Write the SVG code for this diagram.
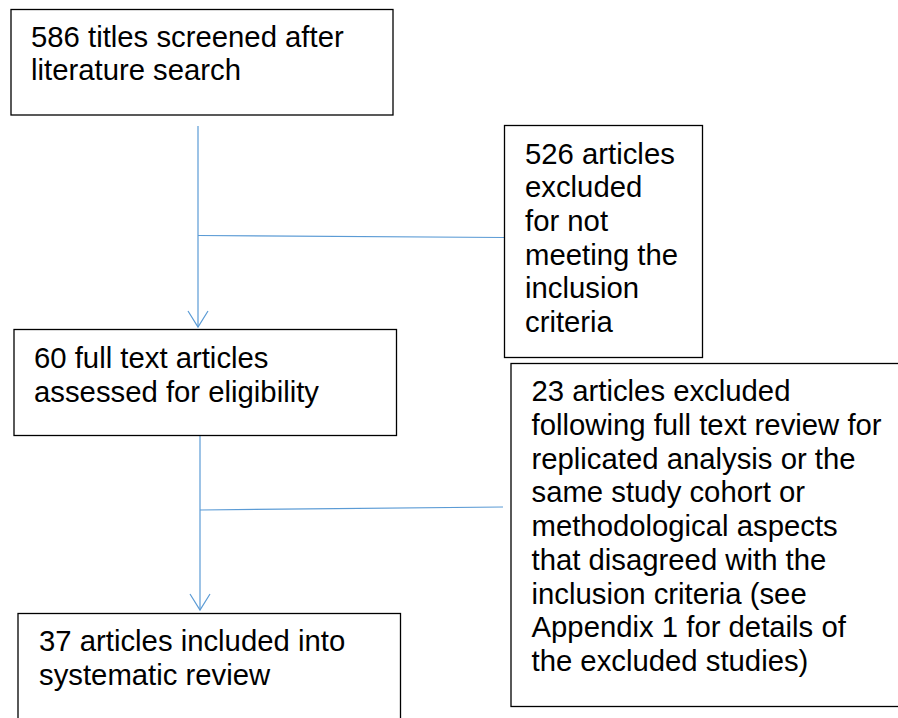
<svg xmlns="http://www.w3.org/2000/svg" width="898" height="718" viewBox="0 0 898 718">
  <defs>
    <style>
      .box { fill: #ffffff; stroke: #000000; stroke-width: 1.3; }
      .lbl { font-family: "Liberation Sans", Arial, sans-serif; font-size: 29.3px; fill: #000000; }
      .conn { fill: none; stroke: #5B9BD5; stroke-width: 1.2; }
    </style>
    <marker id="arrow" markerUnits="userSpaceOnUse" markerWidth="40" markerHeight="40" refX="0" refY="0" orient="auto" overflow="visible">
      <path d="M-16,-10 L0,0 L-16,10" fill="none" stroke="#5B9BD5" stroke-width="1.2"/>
    </marker>
  </defs>
  <rect width="898" height="718" fill="#ffffff"/>

  <g id="connectors">
    <line class="conn" x1="198" y1="126" x2="198" y2="327" marker-end="url(#arrow)"/>
    <line class="conn" x1="198" y1="235.5" x2="504" y2="237.5"/>
    <line class="conn" x1="200" y1="436" x2="200" y2="610" marker-end="url(#arrow)"/>
    <line class="conn" x1="200" y1="510" x2="503" y2="507"/>
  </g>

  <g id="node-screened">
    <rect class="box" x="11" y="9.5" width="382" height="105.5"/>
    <text class="lbl" x="31" y="46.5">586 titles screened after</text>
    <text class="lbl" x="31" y="80">literature search</text>
  </g>

  <g id="node-excluded1">
    <rect class="box" x="504.5" y="125.5" width="198" height="232"/>
    <text class="lbl" x="525" y="163.5">526 articles</text>
    <text class="lbl" x="525" y="197">excluded</text>
    <text class="lbl" x="525" y="231">for not</text>
    <text class="lbl" x="525" y="264.5">meeting the</text>
    <text class="lbl" x="525" y="298">inclusion</text>
    <text class="lbl" x="525" y="332">criteria</text>
  </g>

  <g id="node-fulltext">
    <rect class="box" x="14" y="329.5" width="382.5" height="106"/>
    <text class="lbl" x="34" y="367.5">60 full text articles</text>
    <text class="lbl" x="34" y="401.5">assessed for eligibility</text>
  </g>

  <g id="node-excluded2">
    <rect class="box" x="511" y="363.5" width="400" height="343"/>
    <text class="lbl" x="531.5" y="401">23 articles excluded</text>
    <text class="lbl" x="531.5" y="434.75">following full text review for</text>
    <text class="lbl" x="531.5" y="468.5">replicated analysis or the</text>
    <text class="lbl" x="531.5" y="502.25">same study cohort or</text>
    <text class="lbl" x="531.5" y="536">methodological aspects</text>
    <text class="lbl" x="531.5" y="569.75">that disagreed with the</text>
    <text class="lbl" x="531.5" y="603.5">inclusion criteria (see</text>
    <text class="lbl" x="531.5" y="637.25">Appendix 1 for details of</text>
    <text class="lbl" x="531.5" y="671">the excluded studies)</text>
  </g>

  <g id="node-included">
    <rect class="box" x="18" y="613.5" width="382.5" height="120"/>
    <text class="lbl" x="39" y="651">37 articles included into</text>
    <text class="lbl" x="39" y="685">systematic review</text>
  </g>
</svg>
